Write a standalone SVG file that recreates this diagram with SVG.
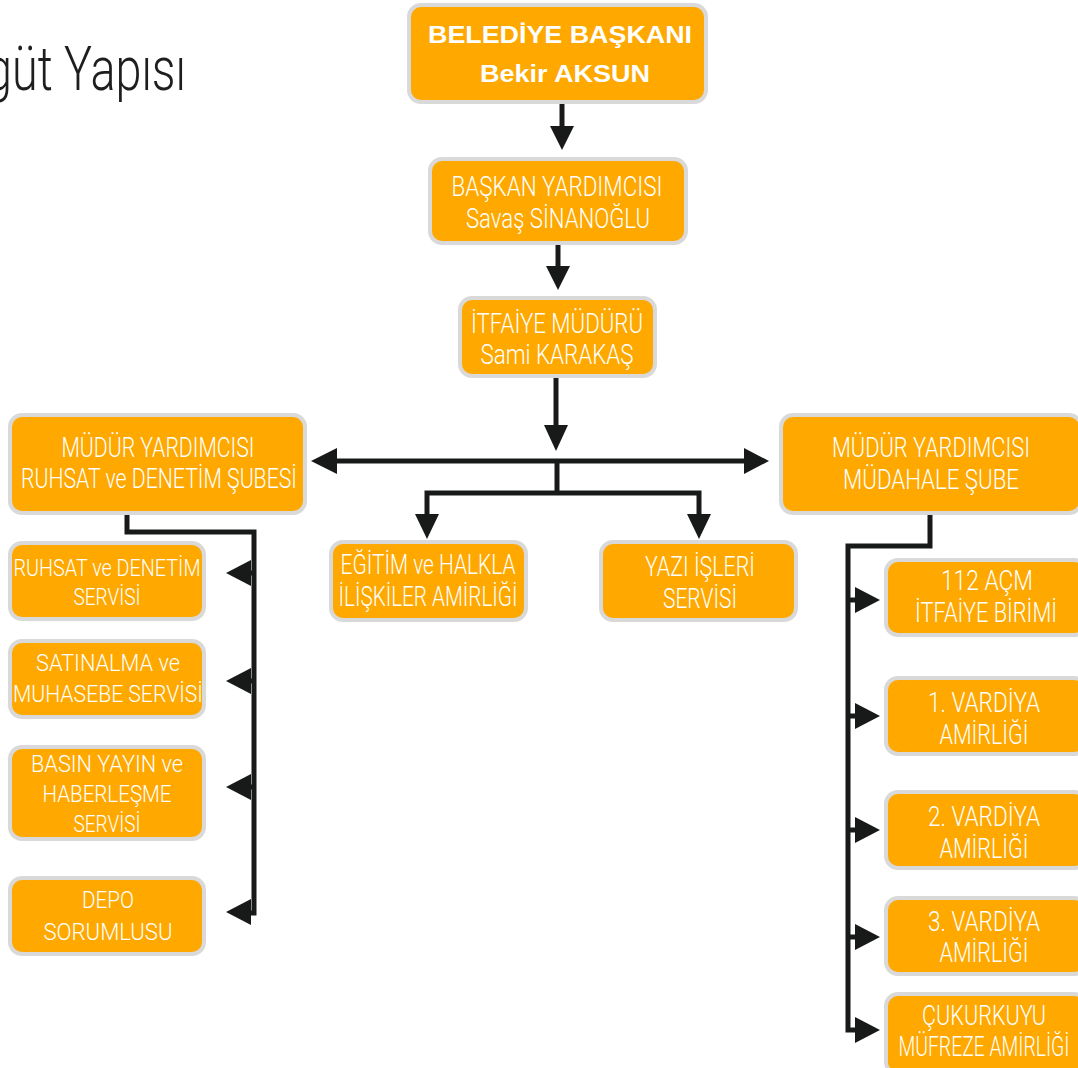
<svg xmlns="http://www.w3.org/2000/svg" width="1078" height="1068" viewBox="0 0 1078 1068">
<style>
.box{fill:#FEA800;stroke:#D9D9D9;stroke-width:4}
.t{fill:#fff;font-family:Roboto,"Liberation Sans",sans-serif;font-weight:300;text-anchor:middle}
.m{font-size:27px}
.s{font-size:24px}
.b{font-family:"Liberation Sans",Arial,sans-serif;font-weight:700;font-size:24px}
.ln{fill:none;stroke:#181A19;stroke-width:5}
.ah{fill:#181A19}
</style>
<rect width="1078" height="1068" fill="#fff"/>
<text x="-14" y="90" font-family="Roboto,'Liberation Sans',sans-serif" font-weight="300" font-size="62" fill="#1E1E1E" textLength="200" lengthAdjust="spacingAndGlyphs">güt Yapısı</text>

<g id="connectors">
<path class="ln" d="M562 104V130"/><polygon class="ah" points="550,126 574,126 562,150"/>
<path class="ln" d="M558 245V270"/><polygon class="ah" points="546,266 570,266 558,290"/>
<path class="ln" d="M556 378V429"/><polygon class="ah" points="544,425 568,425 556,451"/>
<path class="ln" d="M334 461H748"/>
<polygon class="ah" points="337,448 337,474 311,461"/>
<polygon class="ah" points="744,448 744,474 769,461"/>
<path class="ln" d="M557 461V493"/>
<path class="ln" d="M427 518V493H699V518"/>
<polygon class="ah" points="415,514 439,514 427,539"/>
<polygon class="ah" points="687,514 711,514 699,539"/>
<path class="ln" d="M127 515V532H254V913H248"/>
<path class="ln" d="M248 573H254M248 681H254M248 787H254"/>
<polygon class="ah" points="251,560 251,586 226,573"/>
<polygon class="ah" points="251,668 251,694 226,681"/>
<polygon class="ah" points="251,774 251,800 226,787"/>
<polygon class="ah" points="251,899 251,925 226,912"/>
<path class="ln" d="M930 515V546H848V1030H858"/>
<path class="ln" d="M848 600H857M848 716H857M848 830H857M848 937H857"/>
<polygon class="ah" points="855,587 855,613 880,600"/>
<polygon class="ah" points="855,703 855,729 880,716"/>
<polygon class="ah" points="855,817 855,843 880,830"/>
<polygon class="ah" points="855,924 855,950 880,937"/>
<polygon class="ah" points="855,1017 855,1043 880,1030"/>
</g>

<g id="baskan">
<rect class="box" x="409" y="5" width="297" height="97" rx="12"/>
<text class="t b" x="560" y="43" textLength="264" lengthAdjust="spacingAndGlyphs">BELEDİYE BAŞKANI</text>
<text class="t b" x="565" y="82" textLength="170" lengthAdjust="spacingAndGlyphs">Bekir AKSUN</text>
</g>
<g id="baskan-yrd">
<rect class="box" x="430" y="159" width="256" height="84" rx="12"/>
<text class="t m" x="557" y="196" textLength="211" lengthAdjust="spacingAndGlyphs">BAŞKAN YARDIMCISI</text>
<text class="t m" x="558" y="228" textLength="184" lengthAdjust="spacingAndGlyphs">Savaş SİNANOĞLU</text>
</g>
<g id="mudur">
<rect class="box" x="460" y="298" width="195" height="78" rx="12"/>
<text class="t m" x="557" y="333" textLength="172" lengthAdjust="spacingAndGlyphs">İTFAİYE MÜDÜRÜ</text>
<text class="t m" x="557" y="364" textLength="153" lengthAdjust="spacingAndGlyphs">Sami KARAKAŞ</text>
</g>
<g id="myrd-ruhsat">
<rect class="box" x="10" y="415" width="295" height="98" rx="12"/>
<text class="t m" x="158" y="457" textLength="193" lengthAdjust="spacingAndGlyphs">MÜDÜR YARDIMCISI</text>
<text class="t m" x="159" y="488" textLength="276" lengthAdjust="spacingAndGlyphs">RUHSAT ve DENETİM ŞUBESİ</text>
</g>
<g id="myrd-mudahale">
<rect class="box" x="781" y="415" width="300" height="98" rx="12"/>
<text class="t m" x="931" y="457" textLength="198" lengthAdjust="spacingAndGlyphs">MÜDÜR YARDIMCISI</text>
<text class="t m" x="931" y="489" textLength="176" lengthAdjust="spacingAndGlyphs">MÜDAHALE ŞUBE</text>
</g>
<g id="egitim">
<rect class="box" x="331" y="542" width="195" height="78" rx="12"/>
<text class="t m" x="428" y="574" textLength="175" lengthAdjust="spacingAndGlyphs">EĞİTİM ve HALKLA</text>
<text class="t m" x="428" y="606" textLength="179" lengthAdjust="spacingAndGlyphs">İLİŞKİLER AMİRLİĞİ</text>
</g>
<g id="yazi">
<rect class="box" x="601" y="542" width="195" height="78" rx="12"/>
<text class="t m" x="700" y="576" textLength="110" lengthAdjust="spacingAndGlyphs">YAZI İŞLERİ</text>
<text class="t m" x="700" y="608" textLength="74" lengthAdjust="spacingAndGlyphs">SERVİSİ</text>
</g>
<g id="ruhsat-servis">
<rect class="box" x="10" y="543" width="194" height="76" rx="12"/>
<text class="t s" x="107" y="576" textLength="187" lengthAdjust="spacingAndGlyphs">RUHSAT ve DENETİM</text>
<text class="t s" x="107" y="605" textLength="67" lengthAdjust="spacingAndGlyphs">SERVİSİ</text>
</g>
<g id="satinalma">
<rect class="box" x="10" y="641" width="194" height="76" rx="12"/>
<text class="t s" x="108" y="671" textLength="144" lengthAdjust="spacingAndGlyphs">SATINALMA ve</text>
<text class="t s" x="108" y="702" textLength="190" lengthAdjust="spacingAndGlyphs">MUHASEBE SERVİSİ</text>
</g>
<g id="basin">
<rect class="box" x="10" y="747" width="194" height="92" rx="12"/>
<text class="t s" x="107" y="772" textLength="152" lengthAdjust="spacingAndGlyphs">BASIN YAYIN ve</text>
<text class="t s" x="107" y="802" textLength="129" lengthAdjust="spacingAndGlyphs">HABERLEŞME</text>
<text class="t s" x="107" y="832" textLength="67" lengthAdjust="spacingAndGlyphs">SERVİSİ</text>
</g>
<g id="depo">
<rect class="box" x="10" y="878" width="194" height="76" rx="12"/>
<text class="t s" x="108" y="908" textLength="52" lengthAdjust="spacingAndGlyphs">DEPO</text>
<text class="t s" x="108" y="940" textLength="129" lengthAdjust="spacingAndGlyphs">SORUMLUSU</text>
</g>
<g id="acm112">
<rect class="box" x="886" y="560" width="200" height="75" rx="12"/>
<text class="t m" x="987" y="590" font-weight="500" textLength="92" lengthAdjust="spacingAndGlyphs">112 AÇM</text>
<text class="t m" x="986" y="622" textLength="142" lengthAdjust="spacingAndGlyphs">İTFAİYE BİRİMİ</text>
</g>
<g id="vardiya1">
<rect class="box" x="886" y="678" width="200" height="76" rx="12"/>
<text class="t m" x="984" y="712" textLength="112" lengthAdjust="spacingAndGlyphs">1. VARDİYA</text>
<text class="t m" x="984" y="744" textLength="89" lengthAdjust="spacingAndGlyphs">AMİRLİĞİ</text>
</g>
<g id="vardiya2">
<rect class="box" x="886" y="792" width="200" height="76" rx="12"/>
<text class="t m" x="984" y="826" textLength="112" lengthAdjust="spacingAndGlyphs">2. VARDİYA</text>
<text class="t m" x="984" y="858" textLength="89" lengthAdjust="spacingAndGlyphs">AMİRLİĞİ</text>
</g>
<g id="vardiya3">
<rect class="box" x="886" y="898" width="200" height="76" rx="12"/>
<text class="t m" x="984" y="931" textLength="112" lengthAdjust="spacingAndGlyphs">3. VARDİYA</text>
<text class="t m" x="984" y="962" textLength="89" lengthAdjust="spacingAndGlyphs">AMİRLİĞİ</text>
</g>
<g id="cukurkuyu">
<rect class="box" x="886" y="994" width="200" height="80" rx="12"/>
<text class="t m" x="984" y="1025" textLength="124" lengthAdjust="spacingAndGlyphs">ÇUKURKUYU</text>
<text class="t m" x="984" y="1056" textLength="171" lengthAdjust="spacingAndGlyphs">MÜFREZE AMİRLİĞİ</text>
</g>
</svg>
